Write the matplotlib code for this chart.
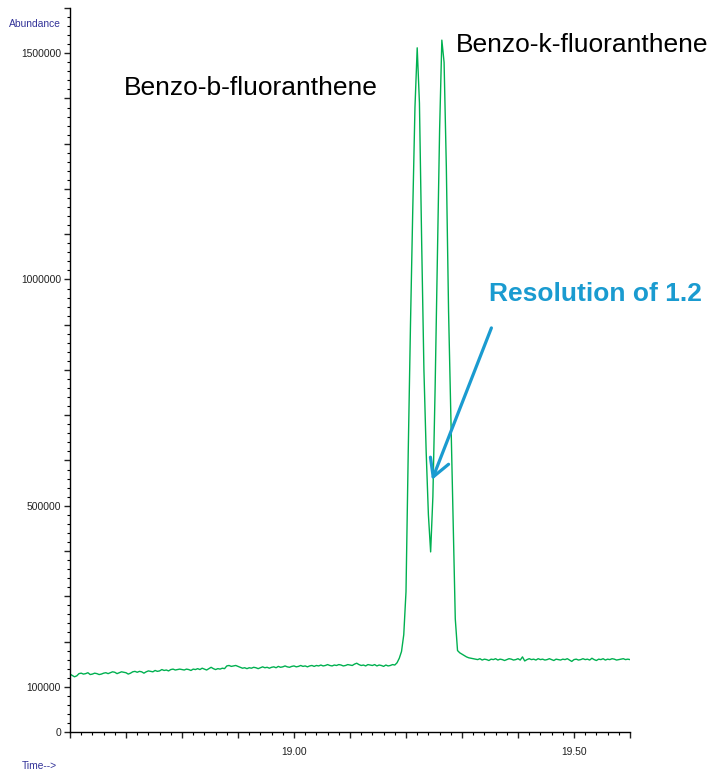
import matplotlib.pyplot as plt
import numpy as np

plt.rcParams['font.family'] = ['Liberation Sans', 'DejaVu Sans']

# TIC scan, one sample every 0.004 min from 18.600 to 19.600 (abundance in thousands)
scan_start = 18.60
scan_step = 0.004
abundance_k = [
    128, 125, 122, 124, 129, 130, 128, 129, 131, 127, 128, 130, 129, 127, 128, 130, 131, 129, 131, 133, 132, 129, 131, 133, 132,
    131, 128, 130, 133, 134, 132, 134, 133, 130, 133, 135, 134, 133, 136, 134, 135, 138, 136, 137, 135, 138, 139, 137, 138, 139,
    138, 137, 139, 138, 136, 139, 138, 140, 138, 141, 139, 137, 140, 143, 140, 138, 140, 139, 141, 140, 146, 147, 145, 146, 147,
    145, 143, 141, 142, 140, 142, 141, 143, 142, 140, 142, 144, 142, 143, 141, 143, 144, 142, 145, 143, 144, 146, 144, 143, 145,
    146, 144, 145, 147, 145, 146, 144, 146, 147, 145, 147, 146, 148, 146, 147, 149, 147, 146, 148, 147, 149, 148, 146, 147, 149,
    148, 147, 150, 152, 149, 147, 148, 146, 149, 148, 147, 149, 146, 148, 147, 145, 148, 146, 147, 149,
    # benzo[b] / benzo[k] fluoranthene pair
    148, 153, 163, 178, 215, 310, 620, 900, 1150, 1380, 1512, 1390, 1080, 800, 620, 480, 398,
    520, 760, 1050, 1330, 1529, 1480, 1250, 930, 700, 480, 250, 180, 175, 172, 169, 166, 164, 163,
    162,
    161, 160, 162, 159, 161, 160, 158, 161, 160, 162, 159, 161, 160, 158, 160, 162, 161, 159, 160, 162, 159, 166, 157, 160, 162,
    160, 161, 159, 162, 160, 161, 159, 160, 162, 160, 158, 161, 160, 159, 161, 160, 162, 159, 156, 160, 161, 159, 160, 162, 160,
    161, 159, 163, 160, 158, 161, 160, 162, 159, 161, 160, 162, 161, 159, 160, 161, 162, 160, 161, 160,
]

y_labels = {0: '0', 100000: '100000', 500000: '500000', 1000000: '1000000', 1500000: '1500000'}
x_labels = {19.0: '19.00', 19.5: '19.50'}

abundance = np.array(abundance_k) * 1000
time = scan_start + scan_step * np.arange(len(abundance))

fig = plt.figure(figsize=(7.13, 7.71), dpi=100)
ax = fig.add_axes([70 / 713, 39 / 771, 560 / 713, 724 / 771])

ax.plot(time, abundance, color='#00b050', linewidth=1.0)

ax.set_xlim(18.6, 19.6)
ax.set_ylim(0, 1600000)

for side in ['top', 'right']:
    ax.spines[side].set_visible(False)
ax.spines['left'].set_linewidth(1.0)
ax.spines['bottom'].set_linewidth(1.0)

# y ticks: every 100000, only some labelled; minor every 20000
yt = np.arange(0, 1600001, 100000)
ax.set_yticks(yt)
ax.set_yticklabels([y_labels.get(int(v), '') for v in yt])
ax.set_yticks(np.arange(0, 1600001, 20000), minor=True)

# x ticks: every 0.1 min, minor every 0.02 min
xt = np.round(np.arange(18.6, 19.601, 0.1), 2)
ax.set_xticks(xt)
ax.set_xticklabels([x_labels.get(round(v, 2), '') for v in xt])
ax.set_xticks(np.round(np.arange(18.6, 19.601, 0.02), 2), minor=True)

ax.tick_params(axis='both', which='major', length=4.5, width=1.0, labelsize=7.4, colors='#222222', pad=2)
ax.tick_params(axis='both', which='minor', length=2.5, width=0.8)
ax.tick_params(axis='x', which='major', pad=6)

fig.text(9 / 713, 1 - 24 / 771, 'Abundance', color='#333399', fontsize=7.4, va='center', ha='left')
fig.text(22 / 713, 1 - 766 / 771, 'Time-->', color='#333399', fontsize=7.4, va='center', ha='left')

ax.text(18.923, 1423000, 'Benzo-b-fluoranthene', fontsize=19, ha='center', va='center', color='black')
ax.text(19.514, 1518000, 'Benzo-k-fluoranthene', fontsize=19, ha='center', va='center', color='black')

blue = '#1a9bd0'
ax.text(19.348, 968000, 'Resolution of 1.2', fontsize=19, fontweight='bold', color=blue,
        ha='left', va='center')
ax.annotate('', xy=(19.2464, 557000), xytext=(19.3525, 893000),
            arrowprops=dict(arrowstyle='->,head_length=1.25,head_width=0.7', color=blue, lw=2.3,
                            shrinkA=0, shrinkB=0))

fig.savefig('out.png', dpi=100)
